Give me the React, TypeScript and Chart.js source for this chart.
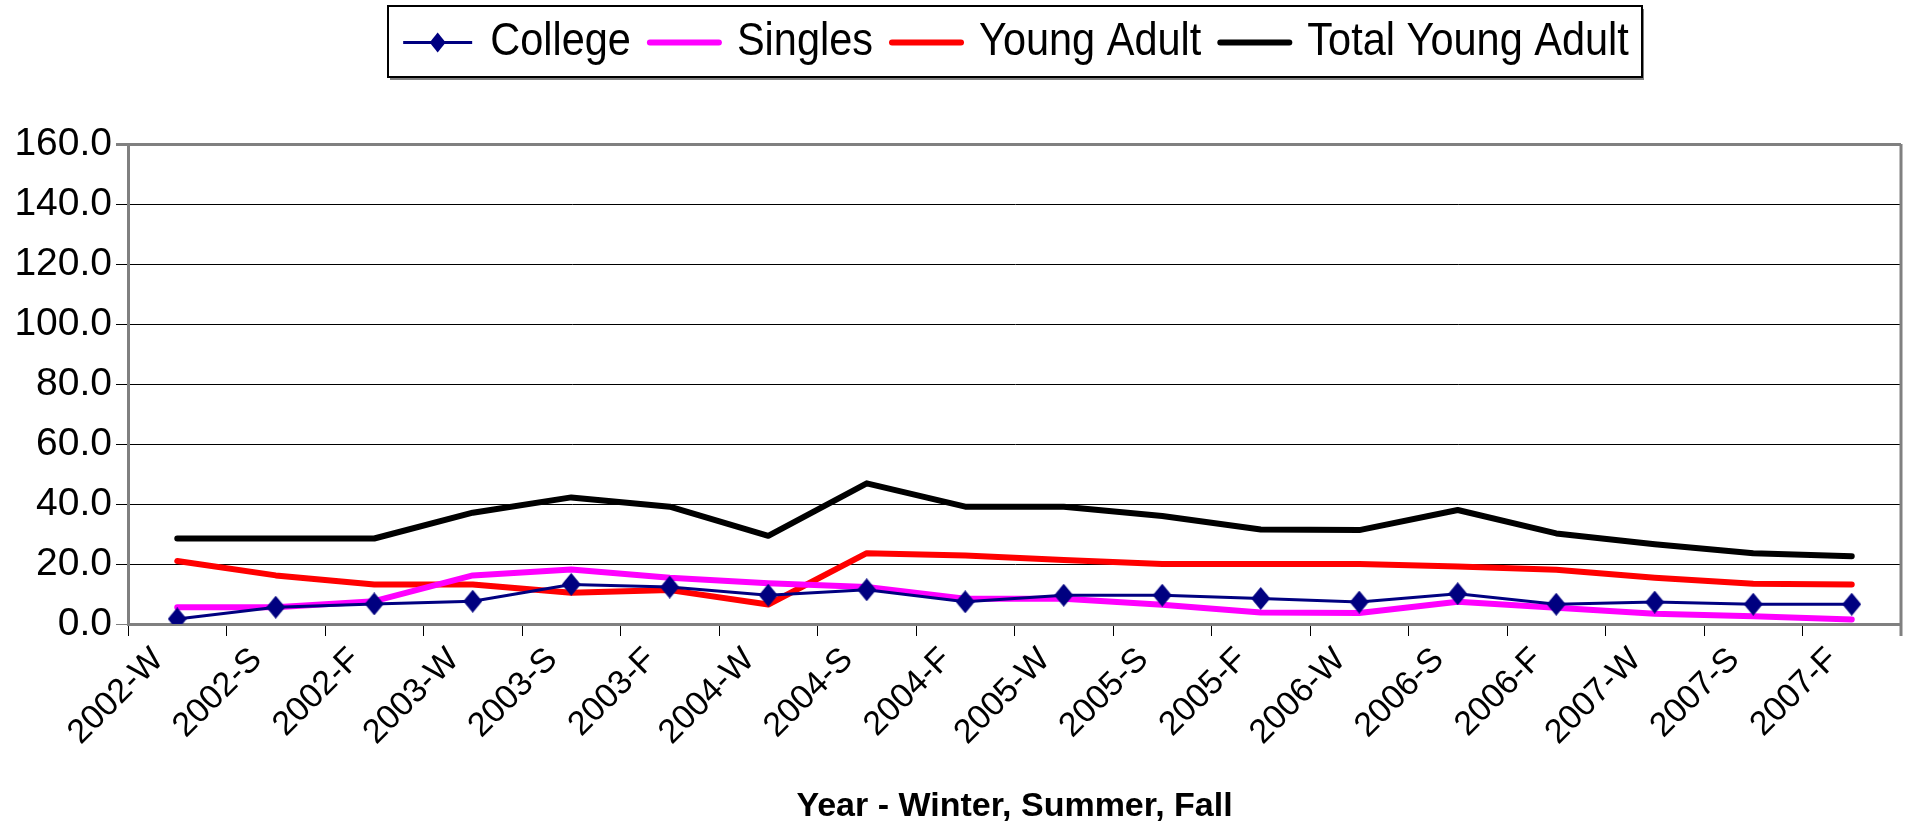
import React, { useEffect, useRef } from "react";
import { Chart, registerables } from "chart.js";

Chart.register(...registerables);

const categories = [
  "2002-W", "2002-S", "2002-F", "2003-W", "2003-S", "2003-F",
  "2004-W", "2004-S", "2004-F", "2005-W", "2005-S", "2005-F",
  "2006-W", "2006-S", "2006-F", "2007-W", "2007-S", "2007-F",
];
const college = [1.7, 5.6, 6.7, 7.6, 13.2, 12.3, 9.6, 11.4, 7.4, 9.6, 9.6, 8.5, 7.3, 10.1, 6.6, 7.3, 6.6, 6.6];
const singles = [5.6, 5.6, 7.6, 16.2, 18.2, 15.4, 13.6, 12.3, 8.4, 8.4, 6.4, 3.8, 3.7, 7.4, 5.4, 3.4, 2.6, 1.5];
const youngAdult = [21.0, 16.2, 13.2, 13.2, 10.4, 11.3, 6.5, 23.6, 22.8, 21.3, 20.0, 20.0, 20.0, 19.2, 18.1, 15.4, 13.4, 13.2];
const totalYoungAdult = [28.5, 28.5, 28.5, 37.1, 42.2, 39.1, 29.4, 46.9, 39.1, 39.1, 36.0, 31.5, 31.3, 38.0, 30.2, 26.6, 23.6, 22.6];

const yMin = 0;
const yMax = 160;
const yStep = 20;
const xTitle = "Year - Winter, Summer, Fall";

const FONT = "'Liberation Sans', Arial, sans-serif";

function makeDiamond(color: string, w: number, h: number) {
  const c = document.createElement("canvas");
  c.width = w;
  c.height = h;
  const g = c.getContext("2d")!;
  g.fillStyle = color;
  g.beginPath();
  g.moveTo(w / 2, 0);
  g.lineTo(w, h / 2);
  g.lineTo(w / 2, h);
  g.lineTo(0, h / 2);
  g.closePath();
  g.fill();
  return c;
}

const legendPlugin = {
  id: "customLegend",
  afterDraw(chart: any) {
    const ctx = chart.ctx;
    ctx.save();
    const bx = 388, by = 6, bw = 1254, bh = 71;
    ctx.fillStyle = "#808080";
    ctx.fillRect(bx + 2, by + 3, bw, bh);
    ctx.fillStyle = "#ffffff";
    ctx.fillRect(bx, by, bw, bh);
    ctx.strokeStyle = "#000000";
    ctx.lineWidth = 2;
    ctx.strokeRect(bx, by, bw, bh);
    ctx.font = "41.5px " + FONT;
    ctx.textBaseline = "middle";
    ctx.textAlign = "left";
    const lineLen = 73;
    const ds = chart.data.datasets;
    let total = 0;
    ds.forEach((d: any, i: number) => {
      total += lineLen + 16 + ctx.measureText(d.label).width + (i < ds.length - 1 ? 17 : 0);
    });
    let x = bx + (bw - total) / 2;
    const cy = by + bh / 2 + 1;
    ds.forEach((d: any) => {
      ctx.strokeStyle = d.borderColor;
      ctx.lineWidth = d.borderWidth;
      ctx.lineCap = d.pointRadius > 0 ? "butt" : "round";
      ctx.beginPath();
      ctx.moveTo(x + 2, cy);
      ctx.lineTo(x + lineLen - 2, cy);
      ctx.stroke();
      if (d.pointRadius > 0) {
        const mx = x + lineLen / 2;
        ctx.fillStyle = d.borderColor;
        ctx.beginPath();
        ctx.moveTo(mx, cy - 10);
        ctx.lineTo(mx + 8, cy);
        ctx.lineTo(mx, cy + 10);
        ctx.lineTo(mx - 8, cy);
        ctx.closePath();
        ctx.fill();
      }
      ctx.fillStyle = "#000000";
      ctx.save();
      ctx.translate(x + lineLen + 16, cy);
      ctx.scale(1, 1.1);
      ctx.fillText(d.label, 0, 0);
      ctx.restore();
      x += lineLen + 16 + ctx.measureText(d.label).width + 17;
    });
    ctx.restore();
  },
};

const framePlugin = {
  id: "frame",
  afterDatasetsDraw(chart: any) {
    const { ctx, chartArea } = chart;
    ctx.save();
    ctx.strokeStyle = "#808080";
    ctx.lineWidth = 3;
    ctx.beginPath();
    ctx.moveTo(chartArea.right, chartArea.top);
    ctx.lineTo(chartArea.right, chartArea.bottom + 12);
    ctx.stroke();
    ctx.restore();
  },
};

export default function App() {
  const ref = useRef<HTMLCanvasElement>(null);
  useEffect(() => {
    if (!ref.current) return;
    const diamond = makeDiamond("#000080", 19, 23);
    const chart = new Chart(ref.current, {
      type: "line",
      data: {
        labels: categories,
        datasets: [
          {
            label: "College",
            data: college,
            borderColor: "#000080",
            backgroundColor: "#000080",
            pointBackgroundColor: "#000080",
            pointBorderColor: "#000080",
            borderWidth: 3,
            pointStyle: diamond as any,
            pointRadius: 10,
            tension: 0,
          },
          {
            label: "Singles",
            data: singles,
            borderColor: "#ff00ff",
            backgroundColor: "#ff00ff",
            borderWidth: 6,
            borderCapStyle: "round",
            borderJoinStyle: "round",
            pointRadius: 0,
            tension: 0,
          },
          {
            label: "Young Adult",
            data: youngAdult,
            borderColor: "#ff0000",
            backgroundColor: "#ff0000",
            borderWidth: 6,
            borderCapStyle: "round",
            borderJoinStyle: "round",
            pointRadius: 0,
            tension: 0,
          },
          {
            label: "Total Young Adult",
            data: totalYoungAdult,
            borderColor: "#000000",
            backgroundColor: "#000000",
            borderWidth: 6,
            borderCapStyle: "round",
            borderJoinStyle: "round",
            pointRadius: 0,
            tension: 0,
          },
        ],
      },
      options: {
        responsive: false,
        animation: false,
        layout: { padding: { top: 144, right: 9, left: 0, bottom: 0 } },
        plugins: {
          legend: { display: false },
          tooltip: { enabled: false },
        },
        scales: {
          x: {
            type: "category",
            offset: true,
            afterFit(scale: any) {
              scale.height = 208;
            },
            grid: {
              offset: true,
              drawOnChartArea: false,
              drawTicks: true,
              tickLength: 12,
              color: "#000000",
              lineWidth: 1,
            },
            border: { display: true, color: "#808080", width: 3 },
            ticks: {
              autoSkip: false,
              maxRotation: 45,
              minRotation: 45,
              color: "#000000",
              padding: 4,
              labelOffset: -19,
              font: { family: FONT, size: 34 },
            },
            title: {
              display: true,
              text: xTitle,
              color: "#000000",
              padding: { top: 0, bottom: 5 },
              font: { family: FONT, size: 34, weight: "bold" },
            },
          },
          y: {
            min: yMin,
            max: yMax,
            afterFit(scale: any) {
              scale.width = 128;
            },
            grid: {
              drawTicks: true,
              tickLength: 12,
              color: (c: any) => (c.tick && (c.tick.value === yMax || c.tick.value === yMin) ? "#808080" : "#000000"),
              lineWidth: (c: any) => (c.tick && c.tick.value === yMax ? 3 : 1),
            },
            border: { display: true, color: "#808080", width: 3 },
            ticks: {
              stepSize: yStep,
              color: "#000000",
              padding: 4,
              font: { family: FONT, size: 39 },
              callback: (v: any) => Number(v).toFixed(1),
            },
          },
        },
      },
      plugins: [legendPlugin, framePlugin],
    });
    return () => chart.destroy();
  }, []);
  return (
    <div style={{ position: "absolute", left: 0, top: 0, width: 1914, height: 832, background: "#fff" }}>
      <canvas ref={ref} width={1914} height={832} style={{ display: "block" }} />
    </div>
  );
}
